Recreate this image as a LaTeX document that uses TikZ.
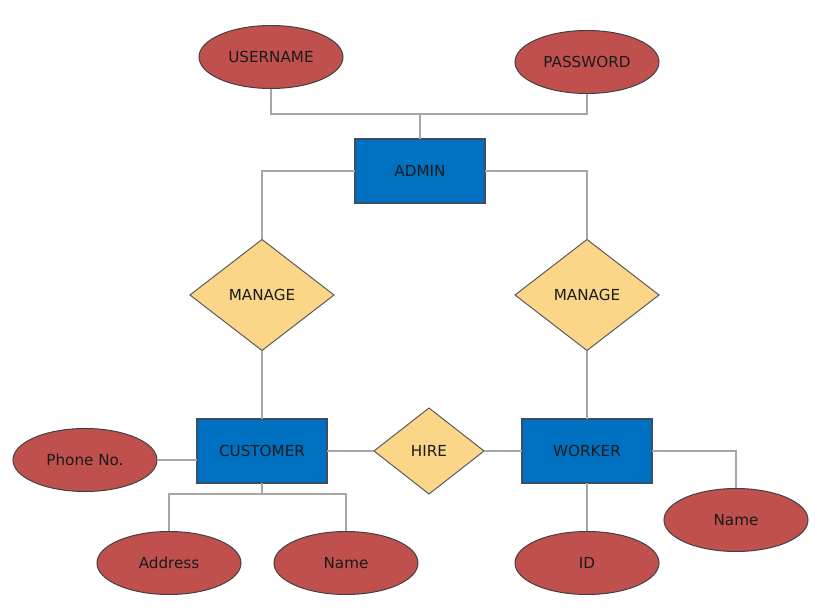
\documentclass[tikz,border=0pt]{standalone}
\usepackage{fontspec}
\setmainfont{DejaVu Sans}
\usepackage{tikz}
\usetikzlibrary{shapes.geometric}

\definecolor{attrred}{HTML}{C0504D}
\definecolor{entblue}{HTML}{0070C0}
\definecolor{entborder}{HTML}{3B4E63}
\definecolor{relyellow}{HTML}{FBD689}
\definecolor{edgegray}{HTML}{A6A6A6}
\definecolor{txtdark}{HTML}{1A1A1A}

\begin{document}
\begin{tikzpicture}[x=0.025cm, y=-0.025cm,
    every node/.style={font=\fontsize{10.8}{12}\selectfont, text=txtdark, inner sep=0pt, outer sep=0pt},
    attr/.style={ellipse, draw=black!75, line width=0.7pt, fill=attrred, minimum width=3.6cm, minimum height=1.575cm},
    entity/.style={rectangle, draw=entborder, line width=0.8pt, fill=entblue, minimum width=3.25cm, minimum height=1.6cm},
    rel/.style={diamond, draw=black!65, line width=0.7pt, fill=relyellow, minimum width=3.6cm, minimum height=2.775cm},
    edge/.style={draw=edgegray, line width=1pt}]
            \useasboundingbox (0,0) rectangle (824,616);
            % Nodes
            \node[attr] (user) at (271,57) {USERNAME};
            \node[attr] (pass) at (587,62) {PASSWORD};
            \node[entity] (admin) at (420,171) {ADMIN};
            \node[rel] (mngC) at (262,295) {MANAGE};
            \node[rel] (mngW) at (587,295) {MANAGE};
            \node[entity] (cust) at (262,451) {CUSTOMER};
            \node[rel, minimum width=2.75cm, minimum height=2.15cm] (hire) at (429,451) {HIRE};
            \node[entity] (work) at (587,451) {WORKER};
            \node[attr] (phone) at (85,460) {Phone No.};
            \node[attr] (addr) at (169,563) {Address};
            \node[attr] (cname) at (346,563) {Name};
            \node[attr] (wid) at (587,563) {ID};
            \node[attr] (wname) at (736,520) {Name};
            \coordinate (topj) at (420,114);
            \coordinate (custj) at (262,494);
            % Arestas
            \draw[edge] (user.south) |- (topj) -| (pass.south);
            \draw[edge] (topj) -- (admin.north);
            \draw[edge] (admin.west) -| (mngC.north);
            \draw[edge] (admin.east) -| (mngW.north);
            \draw[edge] (mngC.south) -- (cust.north);
            \draw[edge] (mngW.south) -- (work.north);
            \draw[edge] (phone.east) -- (phone.east -| cust.west);
            \draw[edge] (cust.south) -- (custj);
            \draw[edge] (addr.north) |- (custj) -| (cname.north);
            \draw[edge] (cust.east) -- (hire.west);
            \draw[edge] (hire.east) -- (work.west);
            \draw[edge] (work.east) -| (wname.north);
            \draw[edge] (work.south) -- (wid.north);
        \end{tikzpicture}
\end{document}
